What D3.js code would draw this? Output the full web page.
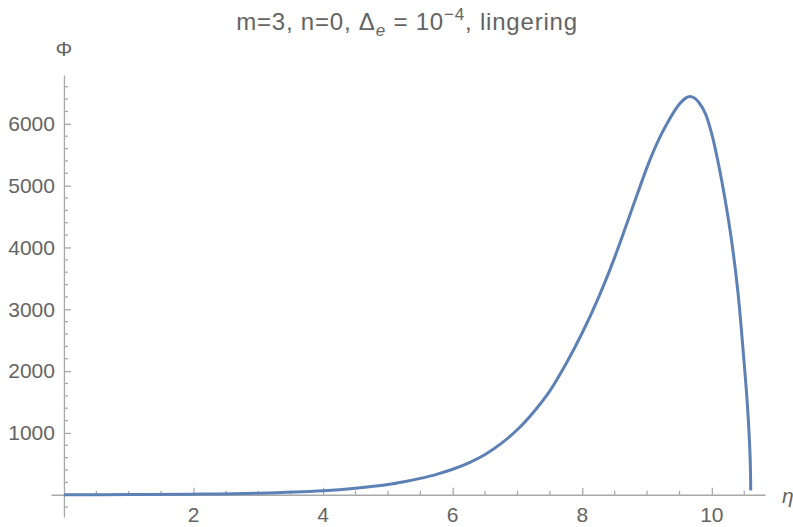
<!DOCTYPE html>
<html>
<head>
<meta charset="utf-8">
<script src="https://cdn.jsdelivr.net/npm/d3@7"></script>
<style>
	body { margin: 0; background: #fff; }
	text { font-family: "Liberation Sans", Arial, sans-serif; fill: #646464; }
</style>
</head>
<body>
<script>
(function() {

	// values
	var eta = [0, 1, 2, 3, 4, 4.5, 5, 5.25, 5.5, 5.75, 6, 6.25, 6.5, 6.75, 7, 7.25, 7.5, 7.75, 8, 8.25, 8.5, 8.75, 9, 9.1, 9.2, 9.3, 9.4, 9.5, 9.6, 9.66, 9.73, 9.8, 9.9, 10, 10.1, 10.2, 10.3, 10.4, 10.49, 10.55, 10.59, 10.6];
	var phi = [0, 3, 9, 25, 65, 105, 165, 210, 265, 330, 412, 515, 650, 830, 1055, 1340, 1680, 2120, 2620, 3190, 3840, 4570, 5300, 5560, 5790, 5990, 6170, 6320, 6420, 6442, 6418, 6345, 6165, 5830, 5360, 4800, 4140, 3300, 2235, 1426, 617, 70];

	var xTickLabels = [2, 4, 6, 8, 10];
	var yTickLabels = [1000, 2000, 3000, 4000, 5000, 6000];

	var width = 793, height = 527;

	var svg = d3.select("body")
		.append("svg")
		.attr("width", width)
		.attr("height", height);

	// scales: axis frame runs a bit past zero on both sides
	var x = d3.scaleLinear()
		.domain([-0.2, 10.82])
		.range([51, 765]);

	var y = d3.scaleLinear()
		.domain([-360, 6790])
		.range([517, 75]);

	var axisColor = "#a8a8a8";

	// x axis at phi = 0, ticks point up
	var xMinor = d3.range(0.5, 10.8, 0.5).filter(function(d) { return d % 2 != 0; });
	var xAxis = d3.axisTop(x)
		.tickValues(xTickLabels)
		.tickSizeInner(7)
		.tickSizeOuter(0)
		.tickFormat("");

	var xG = svg.append("g")
		.attr("class", "x axis")
		.attr("transform", "translate(0," + y(0) + ")")
		.call(xAxis);

	xG.selectAll(".minor")
		.data(xMinor)
	.enter().append("line")
		.attr("class", "minor")
		.attr("x1", function(d) { return x(d); })
		.attr("x2", function(d) { return x(d); })
		.attr("y1", 0)
		.attr("y2", -4);

	xG.selectAll("path, line").attr("stroke", axisColor).attr("stroke-width", 1.3);

	svg.selectAll(".xlabel")
		.data(xTickLabels)
	.enter().append("text")
		.attr("class", "xlabel")
		.attr("x", function(d) { return x(d); })
		.attr("y", y(0) + 27)
		.style("text-anchor", "middle")
		.style("font-size", "21px")
		.text(function(d) { return d; });

	// y axis at eta = 0, ticks point right
	var yMinor = d3.range(-200, 6700, 200).filter(function(d) { return d % 1000 != 0; });
	var yAxis = d3.axisRight(y)
		.tickValues(yTickLabels)
		.tickSizeInner(7)
		.tickSizeOuter(0)
		.tickFormat("");

	var yG = svg.append("g")
		.attr("class", "y axis")
		.attr("transform", "translate(" + x(0) + ",0)")
		.call(yAxis);

	yG.selectAll(".minor")
		.data(yMinor)
	.enter().append("line")
		.attr("class", "minor")
		.attr("x1", 0)
		.attr("x2", 4)
		.attr("y1", function(d) { return y(d); })
		.attr("y2", function(d) { return y(d); });

	yG.selectAll("path, line").attr("stroke", axisColor).attr("stroke-width", 1.3);

	svg.selectAll(".ylabel")
		.data(yTickLabels)
	.enter().append("text")
		.attr("class", "ylabel")
		.attr("x", x(0) - 9)
		.attr("y", function(d) { return y(d); })
		.attr("dy", ".35em")
		.style("text-anchor", "end")
		.style("font-size", "21px")
		.text(function(d) { return d; });

	// the curve
	var points = eta.map(function(d, i) { return [d, phi[i]]; });

	var line = d3.line()
		.x(function(d) { return x(d[0]); })
		.y(function(d) { return y(d[1]); })
		.curve(d3.curveCatmullRom.alpha(0.5));

	svg.append("path")
		.datum(points)
		.attr("d", line)
		.attr("fill", "none")
		.attr("stroke", "#5e81b5")
		.attr("stroke-width", 3);

	// axis names
	svg.append("text")
		.attr("x", x(0))
		.attr("y", 56)
		.style("text-anchor", "middle")
		.style("font-size", "21px")
		.text("\u03A6");

	svg.append("text")
		.attr("x", 782)
		.attr("y", y(0) + 8)
		.style("font-size", "21px")
		.style("font-style", "italic")
		.text("\u03B7");

	// title
	var title = svg.append("text")
		.attr("x", 407)
		.attr("y", 30)
		.style("text-anchor", "middle")
		.style("font-size", "24px")
		.style("letter-spacing", "0.8px");

	title.append("tspan").text("m=3, n=0, \u0394");
	title.append("tspan")
		.attr("dy", 6)
		.style("font-size", "17px")
		.style("font-style", "italic")
		.text("e");
	title.append("tspan").attr("dy", -6).text(" = 10");
	title.append("tspan")
		.attr("dy", -10)
		.style("font-size", "17px")
		.text("\u22124");
	title.append("tspan").attr("dy", 10).text(", lingering");

})();
</script>
</body>
</html>
